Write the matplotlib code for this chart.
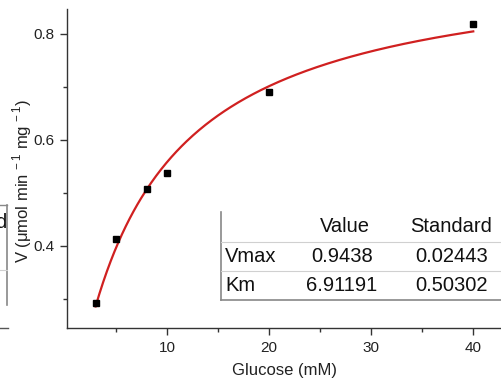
import matplotlib.pyplot as plt
import numpy as np
from matplotlib.lines import Line2D
from matplotlib.patches import Rectangle

plt.rcParams['font.family'] = ['Liberation Sans', 'DejaVu Sans']

# measured data
glucose = [3, 5, 8, 10, 20, 40]
rate = [0.293, 0.413, 0.507, 0.537, 0.690, 0.819]

# fit parameters (from the table)
param_names = ['Vmax', 'Km']
param_values = ['0.9438', '6.91191']
param_errors = ['0.02443', '0.50302']
vmax = 0.9438
km = 6.91191

W, H = 501, 385
fig = plt.figure(figsize=(W / 100, H / 100), dpi=100)
ax_w = 1 - 67 / W + 0.02
ax = fig.add_axes([67 / W, 1 - 328 / H, ax_w, (328 - 9) / H])


def fx(px):
    return px / W


def fy(py):
    return 1 - py / H


# fitted Michaelis-Menten curve
s = np.linspace(min(glucose), max(glucose), 300)
ax.plot(s, vmax * s / (km + s), color='#d02020', lw=1.6, zorder=2)
ax.plot(glucose, rate, 's', color='black', ms=5, zorder=3)

ax.set_xlim(0.2, 43.7)
ax.set_ylim(0.245, 0.847)
ax.set_xticks([10, 20, 30, 40])
ax.set_xticks([5, 15, 25, 35], minor=True)
ax.set_yticks([0.4, 0.6, 0.8])
ax.set_yticks([0.3, 0.5, 0.7], minor=True)
ax.set_yticklabels(['0.4', '0.6', '0.8'])

for side in ['top', 'right']:
    ax.spines[side].set_visible(False)
for side in ['left', 'bottom']:
    ax.spines[side].set_color('#333333')
    ax.spines[side].set_linewidth(1.0)

ax.tick_params(which='major', length=5, width=1, color='#333333',
               labelsize=11, pad=4, labelcolor='#222222')
ax.tick_params(which='minor', length=3, width=1, color='#333333')

ax.set_xlabel('Glucose (mM)', fontsize=12, color='#222222')
ax.xaxis.set_label_coords((284 - 67) / (W * ax_w), -(363 - 328) / 319)
ax.set_ylabel(r'V (μmol min$^{\mathregular{\,-1}}$ mg$^{\mathregular{\,-1}}$)',
              fontsize=12, color='#222222')
ax.yaxis.set_label_coords(-(67 - 34) / (W * ax_w), (328 - 181) / 319)

# parameter table
fig.add_artist(Rectangle((fx(221), fy(300)), fx(300), fy(211.7) - fy(300),
                         transform=fig.transFigure, facecolor='white',
                         edgecolor='none', zorder=5))
fig.add_artist(Line2D([fx(221), fx(221)], [fy(211.7), fy(300)],
                      transform=fig.transFigure, color='#888888', lw=1.2, zorder=6))
fig.add_artist(Line2D([fx(221), 1], [fy(300), fy(300)],
                      transform=fig.transFigure, color='#888888', lw=1.2, zorder=6))
for yl in [241.7, 271]:
    fig.add_artist(Line2D([fx(221), 1], [fy(yl), fy(yl)],
                          transform=fig.transFigure, color='#d0d0d0', lw=0.8, zorder=6))

tkw = dict(transform=fig.transFigure, fontsize=14.5, va='center', zorder=7, color='#111111')
fig.text(fx(345), fy(227), 'Value', ha='center', **tkw)
fig.text(fx(451), fy(227), 'Standard', ha='center', **tkw)
for i, (name, val, err) in enumerate(zip(param_names, param_values, param_errors)):
    yc = [256.5, 285.5][i]
    fig.text(fx(225), fy(yc), name, ha='left', **tkw)
    fig.text(fx(342), fy(yc), val, ha='center', **tkw)
    fig.text(fx(452), fy(yc), err, ha='center', **tkw)

# fragment of a neighbouring panel at the left edge
fig.add_artist(Line2D([0, fx(7)], [fy(205), fy(205)], transform=fig.transFigure,
                      color='#888888', lw=1.0))
fig.add_artist(Line2D([fx(7), fx(7)], [fy(205), fy(305)], transform=fig.transFigure,
                      color='#888888', lw=1.2))
fig.add_artist(Line2D([0, fx(7)], [fy(270), fy(270)], transform=fig.transFigure,
                      color='#d0d0d0', lw=0.8))
fig.add_artist(Line2D([0, fx(8)], [fy(328), fy(328)], transform=fig.transFigure,
                      color='#555555', lw=1.0))
fig.text(fx(-5), fy(222), 'd', fontsize=14.5, va='center', ha='left', color='#111111')

fig.savefig('out.png', dpi=100)
